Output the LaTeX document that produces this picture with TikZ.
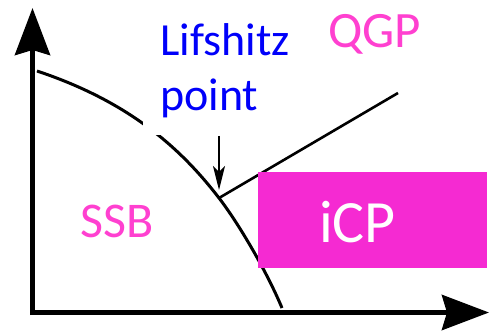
\documentclass[tikz,border=0pt]{standalone}
\usepackage{fontspec}
\setmainfont{Carlito}
\usetikzlibrary{arrows.meta}
\definecolor{magtext}{RGB}{255,64,208}
\definecolor{magbox}{RGB}{245,42,210}
\definecolor{lblue}{RGB}{0,0,250}
\begin{document}
\begin{tikzpicture}[x=1pt,y=-1pt,
  axis/.style={line width=5pt,-{Stealth[length=47pt,width=35pt,inset=5pt]}},
  boundary/.style={line width=3pt},
  pointer/.style={line width=2pt,-{Stealth[length=24pt,width=12pt,inset=6pt]}},
  lbl/.style={inner sep=0pt,anchor=base west}]
\useasboundingbox (0,0) rectangle (497,331);
% axes
\coordinate (corner) at (32.5,312.5);
\coordinate (ytip) at (32.5,8);
\coordinate (xtip) at (489,312.5);
\draw[axis] (32.5,315) -- (ytip);
\draw[axis] (30,312.5) -- (xtip);
% phase boundary
\coordinate (cstart) at (37,71);
\coordinate (lp) at (219,198);
\coordinate (cend) at (282,308);
\coordinate (qend) at (398,93);
\draw[boundary] (cstart) .. controls (127,101) and (179,146) .. (lp)
  .. controls (239,224) and (267,272) .. (cend);
\draw[line width=2.6pt] (lp) -- (qend);
% white label background
\fill[white] (143,20) rectangle (300,135.5);
% labels
\node[lbl,font=\fontsize{46}{56}\selectfont,text=lblue] (lif) at (160,55.5) {Lifshitz};
\node[lbl,font=\fontsize{46}{56}\selectfont,text=lblue] (pt) at (160,111) {point};
\coordinate (atop) at (219,136);
\coordinate (abot) at (219,190);
\draw[pointer] (atop) -- (abot);
\node[lbl,font=\fontsize{51}{60}\selectfont,text=magtext] (qgp) at (328,48) {QGP};
\node[lbl,font=\fontsize{50}{60}\selectfont,text=magtext] (ssb) at (80,237) {SSB};
\node[fill=magbox,minimum width=229pt,minimum height=96pt,inner sep=0pt,anchor=north west] (icp) at (258,172) {};
\node[lbl,font=\fontsize{60}{70}\selectfont,text=white] (icptext) at (319,242) {iCP};
\end{tikzpicture}
\end{document}
